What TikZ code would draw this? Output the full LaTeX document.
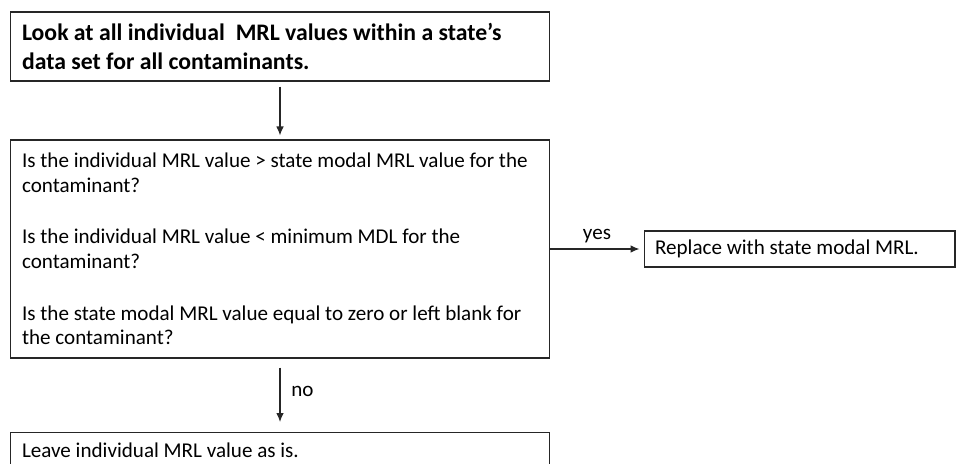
\documentclass[tikz,border=0pt]{standalone}
\usepackage{fontspec}
\setmainfont{Carlito}
\usetikzlibrary{arrows.meta,positioning}
\tikzset{
  flow box/.style={
    draw=black!85,
    line width=0.6pt,
    align=flush left,
    inner xsep=0.24cm,
    inner ysep=0pt,
    font=\fontsize{12}{14.2}\selectfont
  },
  flow arrow/.style={
    draw=black!85,
    line width=0.6pt,
    -{Latex[length=1.8mm,width=1.5mm]}
  },
  flow label/.style={
    font=\fontsize{12}{13}\selectfont
  },
}

\begin{document}
\begin{tikzpicture}[x=0.02cm,y=-0.02cm]
    \useasboundingbox (0,0) rectangle (956,463);
    \clip (0,0) rectangle (956,463);
    \node[flow box,minimum width=10.8cm,minimum height=1.38cm,text width=10.32cm,font=\bfseries\fontsize{13.5}{17}\selectfont] (look) at (280,46.5)
      {Look at all individual\ \ MRL values within a state’s\\data set for all contaminants.};
    \node[flow box,minimum width=10.8cm,minimum height=4.36cm,text width=10.32cm] (check) at (280,249)
      {Is the individual MRL value > state modal MRL value for the\\contaminant?\\[15pt]
       Is the individual MRL value < minimum MDL for the\\contaminant?\\[15pt]
       Is the state modal MRL value equal to zero or left blank for\\the contaminant?};
    \node[flow box,minimum width=6.22cm,minimum height=0.72cm,text width=5.78cm,inner xsep=0.22cm] (replace) at (799.5,249)
      {Replace with state modal MRL.};
    \node[flow box,minimum width=10.8cm,text width=10.32cm,inner ysep=0.2cm,anchor=north] (leave) at (280,432)
      {Leave individual MRL value as is.};
    \draw[flow arrow,shorten <=0.1cm,shorten >=0.08cm] (look.south) -- (check.north);
    \draw[flow arrow,shorten >=0.08cm] (check.east) -- node[flow label,above] {yes} (replace.west);
    \draw[flow arrow,shorten <=0.18cm,shorten >=0.2cm] (check.south) -- node[flow label,right,pos=0.45,xshift=1mm] {no} (leave.north);
\end{tikzpicture}
\end{document}
